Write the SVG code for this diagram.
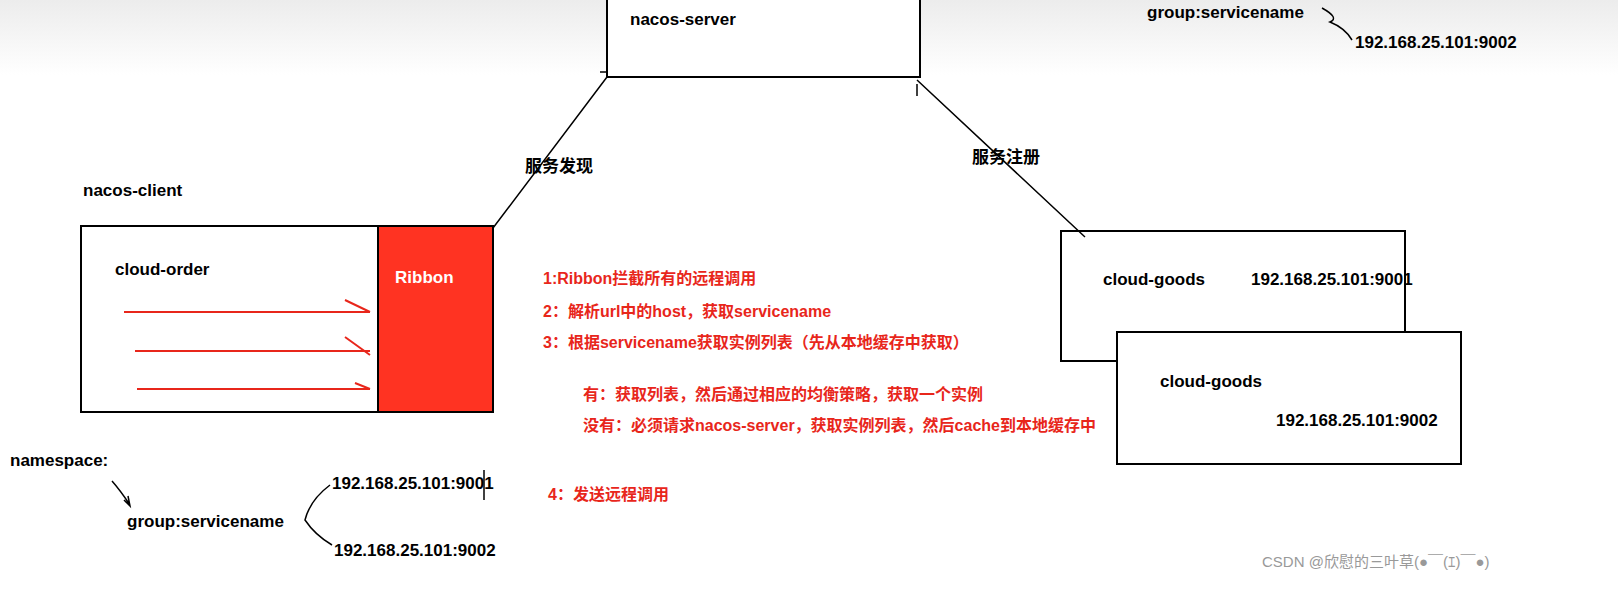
<svg xmlns="http://www.w3.org/2000/svg" width="1618" height="599" viewBox="0 0 1618 599">
<style>
.t{font-family:"Liberation Sans","Noto Sans CJK SC",sans-serif;font-size:17px;font-weight:bold;fill:#000}
.r{font-family:"Liberation Sans","Noto Sans CJK SC",sans-serif;font-size:16px;font-weight:bold;fill:#e8261b}
.b{fill:#fff;stroke:#000;stroke-width:2}
.l{fill:none;stroke:#000;stroke-width:1.5}
.ra{fill:none;stroke:#e8261b;stroke-width:2}
</style>
<defs><linearGradient id="g" x1="0" y1="0" x2="0" y2="1"><stop offset="0" stop-color="#ececec"/><stop offset="1" stop-color="#fff"/></linearGradient></defs>
<rect width="1618" height="599" fill="#fff"/>
<rect width="1618" height="75" fill="url(#g)"/>
<g id="nacos-server"><rect class="b" x="607" y="-3" width="313" height="80"/><text class="t" x="630" y="25">nacos-server</text></g>
<g id="client"><rect class="b" x="81" y="226" width="412" height="186"/><text class="t" x="115" y="275">cloud-order</text></g>
<g id="ribbon"><rect x="378" y="226" width="115" height="186" fill="#ff3322" stroke="#000" stroke-width="2"/><text class="t" x="395" y="283" style="fill:#fff">Ribbon</text></g>
<g id="goods1"><rect class="b" x="1061" y="231" width="344" height="130"/><text class="t" x="1103" y="285">cloud-goods</text><text class="t" x="1251" y="285">192.168.25.101:9001</text></g>
<g id="goods2"><rect class="b" x="1117" y="332" width="344" height="132"/><text class="t" x="1160" y="387">cloud-goods</text><text class="t" x="1276" y="426">192.168.25.101:9002</text></g>
<g id="connectors">
<path class="l" d="M493,228 L607,77 M600,72 L607,72"/>
<path class="l" d="M917,80 L1085,237 M917,84 L917,96"/>
<path class="ra" d="M124,312 L370,312 M345,300 L370,312"/>
<path class="ra" d="M135,351 L370,351 M345,337 L370,355"/>
<path class="ra" d="M137,389 L370,389 M355,383 L370,389"/>
<path class="l" d="M112,481 Q120,490 130,505 M124,500 L130,506 L128,496"/>
<path class="l" d="M330,485 Q310,500 305,520 Q315,535 332,545"/>
<path class="l" d="M484,470 L484,500"/>
<path class="l" d="M1322,8 Q1340,18 1330,22 Q1345,28 1352,40"/>
</g>
<text class="t" x="525" y="172">服务发现</text>
<text class="t" x="972" y="163">服务注册</text>
<text class="t" x="83" y="196">nacos-client</text>
<text class="r" x="543" y="284">1:Ribbon拦截所有的远程调用</text>
<text class="r" x="543" y="317">2：解析url中的host，获取servicename</text>
<text class="r" x="543" y="348">3：根据servicename获取实例列表（先从本地缓存中获取）</text>
<text class="r" x="583" y="400">有：获取列表，然后通过相应的均衡策略，获取一个实例</text>
<text class="r" x="583" y="431">没有：必须请求nacos-server，获取实例列表，然后cache到本地缓存中</text>
<text class="r" x="548" y="500">4：发送远程调用</text>
<text class="t" x="10" y="466">namespace:</text>
<text class="t" x="127" y="527">group:servicename</text>
<text class="t" x="332" y="489">192.168.25.101:9001</text>
<text class="t" x="334" y="556">192.168.25.101:9002</text>
<text class="t" x="1147" y="18">group:servicename</text>
<text class="t" x="1355" y="48">192.168.25.101:9002</text>
<text x="1262" y="567" style="font-family:'Liberation Sans','Noto Sans CJK SC',sans-serif;font-size:15px;fill:#999">CSDN @欣慰的三叶草(●￣(ｴ)￣●)</text>
</svg>
